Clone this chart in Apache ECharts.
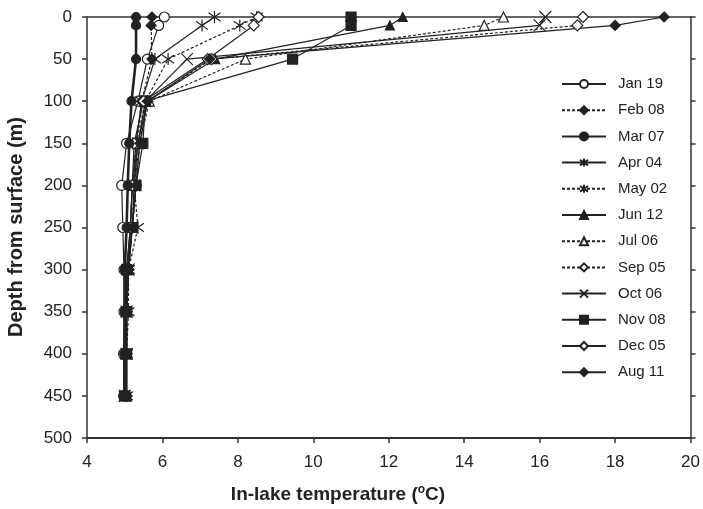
<!DOCTYPE html>
<html>
<head>
<meta charset="utf-8">
<script src="https://cdn.jsdelivr.net/npm/echarts@6/dist/echarts.min.js"></script>
<style>
  html, body { margin: 0; padding: 0; background: #fff; }
  #chart { width: 703px; height: 509px; }
</style>
</head>
<body>
<div id="chart"></div>
<script>
// Sampling depths (m) shared by every profile
const depths = [0, 10, 50, 100, 150, 200, 250, 300, 350, 400, 450];

// In-lake temperature profiles (°C) at each depth above
const jan19 = [6.05, 5.9, 5.6, 5.35, 5.05, 4.92, 4.95, 4.98, 4.98, 4.97, 4.97];
const feb08 = [5.72, 5.7, 5.72, 5.45, 5.3, 5.3, 5.2, 5.1, 5.05, 5.05, 5.05];
const mar07 = [5.3, 5.3, 5.3, 5.18, 5.12, 5.08, 5.05, 5.0, 5.0, 5.0, 5.0];
const apr04 = [7.38, 7.05, 5.8, 5.45, 5.3, 5.2, 5.15, 5.1, 5.05, 5.05, 5.05];
const may02 = [8.5, 8.05, 6.15, 5.55, 5.3, 5.25, 5.35, 5.1, 5.1, 5.05, 5.05];
const jun12 = [12.37, 12.03, 7.4, 5.6, 5.35, 5.2, 5.15, 5.05, 5.05, 5.0, 5.0];
const jul06 = [15.04, 14.53, 8.2, 5.65, 5.4, 5.25, 5.2, 5.1, 5.05, 5.05, 5.05];
const sep05 = [17.15, 17.0, 7.3, 5.6, 5.4, 5.3, 5.2, 5.1, 5.05, 5.05, 5.05];
const oct06 = [16.15, 16.0, 6.65, 5.55, 5.35, 5.25, 5.2, 5.1, 5.05, 5.05, 5.0];
const nov08 = [11.0, 11.0, 9.45, 5.55, 5.48, 5.3, 5.2, 5.05, 5.05, 5.05, 5.0];
const dec05 = [8.55, 8.42, 7.2, 5.5, 5.25, 5.2, 5.15, 5.05, 5.05, 5.0, 5.0];
const aug11 = [19.3, 18.0, 7.25, 5.6, 5.4, 5.3, 5.2, 5.1, 5.05, 5.05, 5.05];

const profileNames = ['Jan 19', 'Feb 08', 'Mar 07', 'Apr 04', 'May 02', 'Jun 12',
                      'Jul 06', 'Sep 05', 'Oct 06', 'Nov 08', 'Dec 05', 'Aug 11'];
const profileValues = [jan19, feb08, mar07, apr04, may02, jun12,
                       jul06, sep05, oct06, nov08, dec05, aug11];

// Axis ranges
const tempMin = 4, tempMax = 20, tempStep = 2;
const depthMin = 0, depthMax = 500, depthStep = 50;

// Marker shapes drawn as strokes
const crossPath = 'path://M0,0L10,10M10,0L0,10';
const asteriskPath = 'path://M1.5,1.5L8.5,8.5M8.5,1.5L1.5,8.5M5,0L5,10';

const INK = '#222';
// Marker / line look per profile (same order as profileNames)
const looks = [
  { symbol: 'circle',   size: 10, open: true,  dashed: false, width: 1.2 },
  { symbol: 'diamond',  size: 10, open: false, dashed: true,  width: 1.2 },
  { symbol: 'circle',   size: 9,  open: false, dashed: false, width: 2.6 },
  { symbol: asteriskPath, size: 12, open: false, dashed: false, width: 1.2 },
  { symbol: asteriskPath, size: 12, open: false, dashed: true,  width: 1.2 },
  { symbol: 'triangle', size: 9,  open: false, dashed: false, width: 1.2 },
  { symbol: 'triangle', size: 10, open: true,  dashed: true,  width: 1.2 },
  { symbol: 'diamond',  size: 11, open: true,  dashed: true,  width: 1.2 },
  { symbol: crossPath,  size: 12, open: false, dashed: false, width: 1.2 },
  { symbol: 'rect',     size: 10, open: false, dashed: false, width: 1.2 },
  { symbol: 'diamond',  size: 11, open: true,  dashed: false, width: 1.2 },
  { symbol: 'diamond',  size: 10, open: false, dashed: false, width: 1.2 }
];

const FONT = 'Liberation Sans, Arial, sans-serif';

const series = profileNames.map((name, i) => {
  const look = looks[i];
  return {
    name: name,
    type: 'line',
    xAxisIndex: 0,
    yAxisIndex: 0,
    data: depths.map((d, k) => [profileValues[i][k], d]),
    symbol: look.symbol,
    symbolSize: look.size,
    showAllSymbol: true,
    clip: false,
    lineStyle: {
      color: INK,
      width: look.width,
      type: look.dashed ? [3, 2] : 'solid'
    },
    itemStyle: {
      color: look.open ? '#fff' : INK,
      borderColor: INK,
      borderWidth: 1.2
    },
    emphasis: { disabled: true },
    z: i === 2 ? 5 : 3
  };
});

const chart = echarts.init(document.getElementById('chart'), null, { renderer: 'canvas' });

chart.setOption({
  animation: false,
  backgroundColor: '#fff',
  grid: { left: 87, right: 10.3, top: 17, bottom: 71, containLabel: false },
  xAxis: [
    {
      type: 'value', position: 'bottom',
      min: tempMin, max: tempMax, interval: tempStep,
      axisLine: { show: true, onZero: false, lineStyle: { color: '#333', width: 2 } },
      axisTick: { show: true, inside: false, length: 5, lineStyle: { color: '#333', width: 1.5 } },
      axisLabel: { show: true, margin: 16, color: INK, fontSize: 17, fontFamily: FONT },
      splitLine: { show: false }
    },
    {
      type: 'value', position: 'top',
      min: tempMin, max: tempMax, interval: tempStep,
      axisLine: { show: true, onZero: false, lineStyle: { color: '#333', width: 1.5 } },
      axisTick: { show: false },
      axisLabel: { show: false },
      splitLine: { show: false }
    }
  ],
  yAxis: [
    {
      type: 'value', position: 'left', inverse: true,
      min: depthMin, max: depthMax, interval: depthStep,
      axisLine: { show: true, onZero: false, lineStyle: { color: '#333', width: 1.5 } },
      axisTick: { show: true, inside: false, length: 5, lineStyle: { color: '#333', width: 1.5 } },
      axisLabel: { show: true, margin: 15, color: INK, fontSize: 17, fontFamily: FONT },
      splitLine: { show: false }
    },
    {
      type: 'value', position: 'right', inverse: true,
      min: depthMin, max: depthMax, interval: depthStep,
      axisLine: { show: true, onZero: false, lineStyle: { color: '#333', width: 1.5 } },
      axisTick: { show: true, inside: false, length: 5, lineStyle: { color: '#333', width: 1.5 } },
      axisLabel: { show: false },
      splitLine: { show: false }
    }
  ],
  legend: {
    data: profileNames,
    orient: 'vertical',
    left: 561,
    top: 76,
    padding: 0,
    itemWidth: 44,
    itemHeight: 10,
    itemGap: 10.2,
    selectedMode: false,
    textStyle: {
      color: INK, fontSize: 15, fontFamily: FONT, lineHeight: 16,
      padding: [0, 0, 0, 7]
    }
  },
  graphic: [
    {
      type: 'text',
      x: 338, y: 495,
      style: {
        text: '{a|In-lake temperature (}{s|o}{a|C)}',
        align: 'center', verticalAlign: 'middle',
        rich: {
          a: { fontSize: 19, fontWeight: 'bold', fontFamily: FONT, fill: INK, lineHeight: 22 },
          s: { fontSize: 12, fontWeight: 'bold', fontFamily: FONT, fill: INK, lineHeight: 22, verticalAlign: 'top', padding: [0, 0, 7, 0] }
        }
      }
    },
    {
      type: 'text',
      x: 16, y: 227,
      rotation: Math.PI / 2,
      style: {
        text: 'Depth from surface (m)',
        align: 'center', verticalAlign: 'middle',
        fontSize: 20, fontWeight: 'bold', fontFamily: FONT, fill: INK
      }
    }
  ],
  series: series
});
</script>
</body>
</html>
